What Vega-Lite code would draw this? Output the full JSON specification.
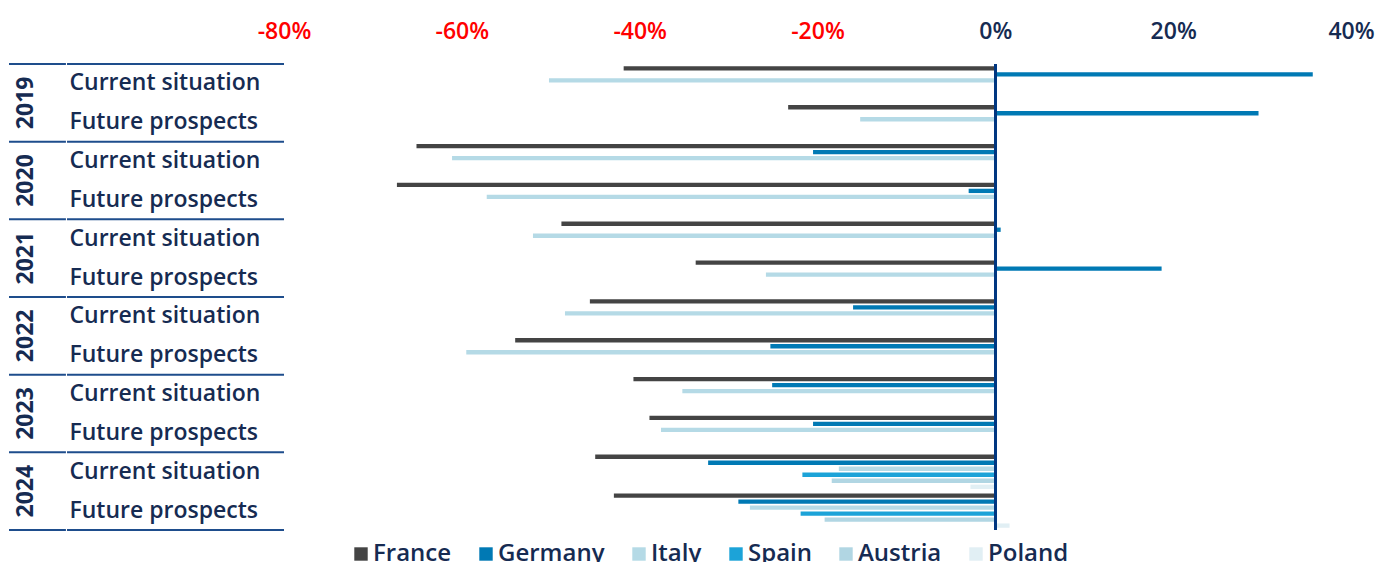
{
  "$schema": "https://vega.github.io/schema/vega-lite/v6.json",
  "padding": {"left": 8, "top": 20, "right": 5, "bottom": 0},
  "bounds": "flush",
  "spacing": 0,
  "config": {
    "view": {"stroke": null},
    "font": "Open Sans",
    "legend": {
      "symbolType": "square",
      "symbolSize": 180,
      "symbolStrokeWidth": 0,
      "labelFontSize": 24,
      "labelFont": "Open Sans",
      "labelFontWeight": 600,
      "labelColor": "#162B52",
      "columnPadding": 22,
      "labelOffset": 0
    }
  },
  "datasets": {
    "survey": [
      {"year": "2019", "situation": "Current situation", "country": "France", "value": -41.8},
      {"year": "2019", "situation": "Current situation", "country": "Germany", "value": 35.7},
      {"year": "2019", "situation": "Current situation", "country": "Italy", "value": -50.2},
      {"year": "2019", "situation": "Future prospects", "country": "France", "value": -23.3},
      {"year": "2019", "situation": "Future prospects", "country": "Germany", "value": 29.6},
      {"year": "2019", "situation": "Future prospects", "country": "Italy", "value": -15.2},
      {"year": "2020", "situation": "Current situation", "country": "France", "value": -65.1},
      {"year": "2020", "situation": "Current situation", "country": "Germany", "value": -20.5},
      {"year": "2020", "situation": "Current situation", "country": "Italy", "value": -61.1},
      {"year": "2020", "situation": "Future prospects", "country": "France", "value": -67.3},
      {"year": "2020", "situation": "Future prospects", "country": "Germany", "value": -3.0},
      {"year": "2020", "situation": "Future prospects", "country": "Italy", "value": -57.2},
      {"year": "2021", "situation": "Current situation", "country": "France", "value": -48.8},
      {"year": "2021", "situation": "Current situation", "country": "Germany", "value": 0.6},
      {"year": "2021", "situation": "Current situation", "country": "Italy", "value": -52.0},
      {"year": "2021", "situation": "Future prospects", "country": "France", "value": -33.7},
      {"year": "2021", "situation": "Future prospects", "country": "Germany", "value": 18.7},
      {"year": "2021", "situation": "Future prospects", "country": "Italy", "value": -25.8},
      {"year": "2022", "situation": "Current situation", "country": "France", "value": -45.6},
      {"year": "2022", "situation": "Current situation", "country": "Germany", "value": -16.0},
      {"year": "2022", "situation": "Current situation", "country": "Italy", "value": -48.4},
      {"year": "2022", "situation": "Future prospects", "country": "France", "value": -54.0},
      {"year": "2022", "situation": "Future prospects", "country": "Germany", "value": -25.3},
      {"year": "2022", "situation": "Future prospects", "country": "Italy", "value": -59.5},
      {"year": "2023", "situation": "Current situation", "country": "France", "value": -40.7},
      {"year": "2023", "situation": "Current situation", "country": "Germany", "value": -25.1},
      {"year": "2023", "situation": "Current situation", "country": "Italy", "value": -35.2},
      {"year": "2023", "situation": "Future prospects", "country": "France", "value": -38.9},
      {"year": "2023", "situation": "Future prospects", "country": "Germany", "value": -20.5},
      {"year": "2023", "situation": "Future prospects", "country": "Italy", "value": -37.6},
      {"year": "2024", "situation": "Current situation", "country": "France", "value": -45.0},
      {"year": "2024", "situation": "Current situation", "country": "Germany", "value": -32.3},
      {"year": "2024", "situation": "Current situation", "country": "Italy", "value": -17.6},
      {"year": "2024", "situation": "Current situation", "country": "Spain", "value": -21.7},
      {"year": "2024", "situation": "Current situation", "country": "Austria", "value": -18.4},
      {"year": "2024", "situation": "Current situation", "country": "Poland", "value": -2.8},
      {"year": "2024", "situation": "Future prospects", "country": "France", "value": -42.9},
      {"year": "2024", "situation": "Future prospects", "country": "Germany", "value": -28.9},
      {"year": "2024", "situation": "Future prospects", "country": "Italy", "value": -27.6},
      {"year": "2024", "situation": "Future prospects", "country": "Spain", "value": -21.9},
      {"year": "2024", "situation": "Future prospects", "country": "Austria", "value": -19.2},
      {"year": "2024", "situation": "Future prospects", "country": "Poland", "value": 1.6}
    ]
  },
  "hconcat": [
    {
      "width": 275,
      "height": 466,
      "data": {"name": "survey"},
      "transform": [
        {"calculate": "datum.year + ' ' + datum.situation", "as": "key"},
        {"aggregate": [{"op": "count", "as": "n"}], "groupby": ["year", "situation", "key"]}
      ],
      "encoding": {
        "y": {
          "field": "key", "type": "nominal", "axis": null,
          "scale": {"type": "band", "paddingInner": 0, "paddingOuter": 0,
            "domain": ["2019 Current situation", "2019 Future prospects", "2020 Current situation", "2020 Future prospects", "2021 Current situation", "2021 Future prospects", "2022 Current situation", "2022 Future prospects", "2023 Current situation", "2023 Future prospects", "2024 Current situation", "2024 Future prospects"]}
        }
      },
      "layer": [
        {
          "transform": [{"filter": "datum.situation == 'Current situation'"}],
          "mark": {"type": "rule", "color": "#1E4D8C", "strokeWidth": 2},
          "encoding": {
            "y": {"field": "key", "type": "nominal", "bandPosition": 0},
            "x": {"datum": 0, "type": "quantitative", "scale": {"domain": [0, 1]}, "axis": null},
            "x2": {"datum": 0.207}
          }
        },
        {
          "transform": [{"filter": "datum.situation == 'Current situation'"}],
          "mark": {"type": "rule", "color": "#1E4D8C", "strokeWidth": 2},
          "encoding": {
            "y": {"field": "key", "type": "nominal", "bandPosition": 0},
            "x": {"datum": 0.211, "type": "quantitative"},
            "x2": {"datum": 1}
          }
        },
        {
          "transform": [{"filter": "datum.key == '2024 Future prospects'"}],
          "mark": {"type": "rule", "color": "#1E4D8C", "strokeWidth": 2},
          "encoding": {
            "y": {"field": "key", "type": "nominal", "bandPosition": 1},
            "x": {"datum": 0, "type": "quantitative"},
            "x2": {"datum": 0.207}
          }
        },
        {
          "transform": [{"filter": "datum.key == '2024 Future prospects'"}],
          "mark": {"type": "rule", "color": "#1E4D8C", "strokeWidth": 2},
          "encoding": {
            "y": {"field": "key", "type": "nominal", "bandPosition": 1},
            "x": {"datum": 0.211, "type": "quantitative"},
            "x2": {"datum": 1}
          }
        },
        {
          "mark": {"type": "text", "align": "left", "baseline": "middle", "fontSize": 23, "fontWeight": 600, "color": "#162B52"},
          "encoding": {
            "y": {"field": "key", "type": "nominal", "bandPosition": 0.5},
            "x": {"datum": 0.22, "type": "quantitative"},
            "text": {"field": "situation"}
          }
        },
        {
          "transform": [{"filter": "datum.situation == 'Future prospects'"}],
          "mark": {"type": "text", "align": "center", "baseline": "middle", "angle": 270, "fontSize": 23, "fontWeight": "bold", "color": "#162B52"},
          "encoding": {
            "y": {"field": "key", "type": "nominal", "bandPosition": 0},
            "x": {"datum": 0.06, "type": "quantitative"},
            "text": {"field": "year"}
          }
        }
      ]
    },
    {
      "width": 1067,
      "height": 466,
      "data": {"name": "survey"},
      "transform": [
        {"calculate": "datum.year + ' ' + datum.situation", "as": "key"}
      ],
      "layer": [
        {
          "mark": {"type": "bar"},
          "encoding": {
            "y": {
              "field": "key", "type": "nominal", "axis": null,
              "scale": {"type": "band", "paddingInner": 0, "paddingOuter": 0,
                "domain": ["2019 Current situation", "2019 Future prospects", "2020 Current situation", "2020 Future prospects", "2021 Current situation", "2021 Future prospects", "2022 Current situation", "2022 Future prospects", "2023 Current situation", "2023 Future prospects", "2024 Current situation", "2024 Future prospects"]}
            },
            "yOffset": {
              "field": "country", "type": "nominal",
              "scale": {"domain": ["France", "Germany", "Italy", "Spain", "Austria", "Poland"], "paddingInner": 0.28, "paddingOuter": 0.37}
            },
            "x": {
              "field": "value", "type": "quantitative",
              "scale": {"domain": [-80, 40], "nice": false, "zero": true},
              "axis": {
                "orient": "top", "values": [-80, -60, -40, -20, 0, 20, 40],
                "labelExpr": "datum.value + '%'",
                "domain": false, "ticks": false, "grid": false, "title": null,
                "labelFont": "Open Sans", "labelFontSize": 23, "labelFontWeight": 600,
                "labelPadding": 21, "labelFlush": false,
                "labelColor": {"condition": {"test": "datum.value < 0", "value": "#FF0000"}, "value": "#162B52"}
              }
            },
            "color": {
              "field": "country", "type": "nominal",
              "scale": {"domain": ["France", "Germany", "Italy", "Spain", "Austria", "Poland"],
                "range": ["#444444", "#0079B4", "#B5DAE6", "#1CA3D8", "#B1D6E3", "#E1EFF4"]},
              "legend": {"orient": "none", "direction": "horizontal", "title": null, "legendX": 340, "legendY": 478}
            }
          }
        },
        {
          "mark": {"type": "rule", "color": "#003781", "strokeWidth": 2.5},
          "encoding": {"x": {"datum": 0, "type": "quantitative"}}
        }
      ]
    }
  ]
}
